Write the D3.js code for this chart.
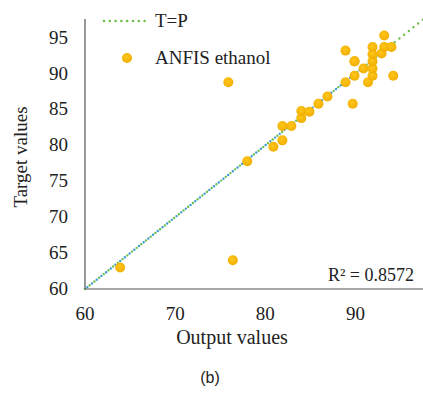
<!DOCTYPE html>
<html>
<head>
<meta charset="utf-8">
<script src="https://cdn.jsdelivr.net/npm/d3@7"></script>
<style>
  body { margin: 0; background: #fff; }
  svg text { font-family: "Liberation Serif", "Times New Roman", serif; fill: #222; }
</style>
</head>
<body>
<svg id="chart" width="423" height="393"></svg>
<script>
// ANFIS ethanol: output (x) vs target (y)
var outputVals = [63.9, 76.4, 75.9, 78.0, 80.9, 81.9, 81.9, 82.9, 84.0, 84.0, 84.9, 85.9, 86.9, 89.7,
  88.9, 88.9, 89.9, 89.9, 90.9, 91.4, 91.9, 91.9, 91.9, 91.9, 91.9, 92.9, 93.2, 93.2, 94.0, 94.2, 89.9];
var targetVals = [63.0, 64.0, 88.8, 77.8, 79.8, 80.7, 82.7, 82.7, 83.8, 84.8, 84.7, 85.8, 86.8, 85.8,
  88.8, 93.2, 91.7, 89.7, 90.7, 88.8, 89.7, 90.7, 91.7, 92.7, 93.7, 92.8, 93.7, 95.3, 93.7, 89.7, 91.7];
var xTicks = [60, 70, 80, 90];
var yTicks = [60, 65, 70, 75, 80, 85, 90, 95];
var fitRange = [60, 94.2];
var r2Label = "R² = 0.8572";

var svg = d3.select('#chart');

var x = d3.scaleLinear().domain([60, 97.5]).range([85, 423]);
var y = d3.scaleLinear().domain([60, 97.6]).range([289, 19]);

var pts = outputVals.map(function (v, i) { return { x: v, y: targetVals[i] }; });

// gradient for the dots
var grad = svg.append('defs').append('radialGradient')
  .attr('id', 'dot').attr('cx', '45%').attr('cy', '40%').attr('r', '60%');
grad.append('stop').attr('offset', '0%').attr('stop-color', '#ffc61a');
grad.append('stop').attr('offset', '100%').attr('stop-color', '#f0ae00');

// T=P line (green dotted)
svg.append('line')
  .attr('x1', x(60)).attr('y1', y(60))
  .attr('x2', x(97.5)).attr('y2', y(97.5))
  .attr('stroke', '#6cbf4a').attr('stroke-width', 2.4)
  .attr('stroke-linecap', 'round').attr('stroke-dasharray', '0,6');

// linear fit (blue dotted), sits on top of T=P
svg.append('line')
  .attr('x1', x(fitRange[0])).attr('y1', y(fitRange[0]))
  .attr('x2', x(fitRange[1])).attr('y2', y(fitRange[1]))
  .attr('stroke', '#3d9ad6').attr('stroke-width', 2.4)
  .attr('stroke-linecap', 'round').attr('stroke-dasharray', '0,6')
  .attr('stroke-dashoffset', -3);

svg.selectAll('circle.pt')
  .data(pts)
  .enter().append('circle')
  .attr('class', 'pt')
  .attr('cx', function (d) { return x(d.x); })
  .attr('cy', function (d) { return y(d.y); })
  .attr('r', 5)
  .attr('fill', 'url(#dot)');

// axes
svg.append('line').attr('x1', 85).attr('x2', 85).attr('y1', y.range()[1]).attr('y2', y(60))
  .attr('stroke', '#555').attr('stroke-width', 1.2);
svg.append('line').attr('x1', 85).attr('x2', 423).attr('y1', y(60)).attr('y2', y(60))
  .attr('stroke', '#555').attr('stroke-width', 1.2);

svg.selectAll('text.yt')
  .data(yTicks)
  .enter().append('text')
  .attr('class', 'yt')
  .attr('x', 68).attr('y', function (d) { return y(d) + 6; })
  .attr('text-anchor', 'end').attr('font-size', 19)
  .text(function (d) { return d; });

svg.selectAll('text.xt')
  .data(xTicks)
  .enter().append('text')
  .attr('class', 'xt')
  .attr('x', function (d) { return x(d); }).attr('y', 320)
  .attr('text-anchor', 'middle').attr('font-size', 19)
  .text(function (d) { return d; });

svg.append('text').attr('x', 232).attr('y', 344).attr('text-anchor', 'middle')
  .attr('font-size', 20).text('Output values');
svg.append('text').attr('transform', 'translate(27,157) rotate(-90)').attr('text-anchor', 'middle')
  .attr('font-size', 19).text('Target  values');

svg.append('text').attr('x', 414).attr('y', 281).attr('text-anchor', 'end')
  .attr('font-size', 18).text(r2Label);

svg.append('text').attr('x', 210).attr('y', 383).attr('text-anchor', 'middle')
  .style('font-family', '"Liberation Sans", Arial, sans-serif')
  .attr('font-size', 16).text('(b)');

// legend
svg.append('line').attr('x1', 104).attr('x2', 145).attr('y1', 21).attr('y2', 21)
  .attr('stroke', '#6cbf4a').attr('stroke-width', 2.6)
  .attr('stroke-linecap', 'round').attr('stroke-dasharray', '0,5.8');
svg.append('text').attr('x', 155).attr('y', 27).attr('font-size', 19).text('T=P');
svg.append('circle').attr('cx', 127).attr('cy', 58).attr('r', 5).attr('fill', 'url(#dot)');
svg.append('text').attr('x', 155).attr('y', 64).attr('font-size', 19).text('ANFIS ethanol');
</script>
</body>
</html>
